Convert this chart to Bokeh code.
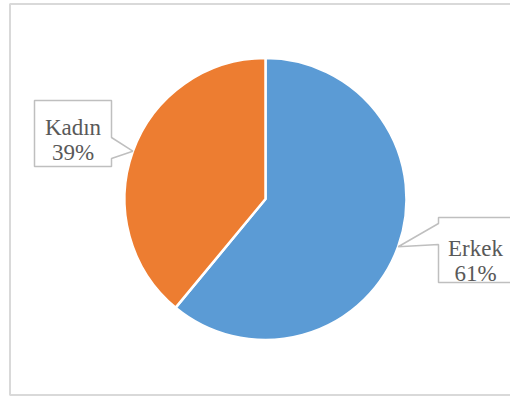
import math
from bokeh.plotting import figure
from bokeh.models import Range1d, ColumnDataSource
from bokeh.core.properties import value
from bokeh.embed import file_html
from bokeh.resources import INLINE

# ---- data ----
labels = ["Erkek", "Kadın"]
values = [61, 39]
colors = ["#5b9bd5", "#ed7d31"]

# ---- layout (screen pixels of the picture) ----
W, H = 510, 397
OX, OY = 0, 0
CX, CY, R = 265, 198.5, 141
FONT = value("Liberation Serif")
FSIZE = "23px"

def dx(sx):
    return sx - OX

def dy(sy):
    return (OY + H) - sy

p = figure(width=W, height=H, x_range=Range1d(0, W), y_range=Range1d(0, H),
           output_backend="svg", toolbar_location=None, min_border=0)
p.axis.visible = False
p.grid.visible = False
p.outline_line_color = None
p.background_fill_color = "white"
p.border_fill_color = "white"

# chart area border
bl, bt, bb, br = 9.5, 3.5, 394.5, 520
p.line([dx(br), dx(bl), dx(bl), dx(br)], [dy(bt), dy(bt), dy(bb), dy(bb)],
       line_color="#d9d9d9", line_width=2)

# wedges: start at 12 o'clock, clockwise
total = sum(values)
starts, ends, mids = [], [], []
cur = 90.0
for v in values:
    sweep = v / total * 360.0
    end = cur
    start = cur - sweep
    starts.append(math.radians(start))
    ends.append(math.radians(end))
    mids.append(math.radians((start + end) / 2))
    cur = start

src = ColumnDataSource(dict(x=[dx(CX)] * len(values), y=[dy(CY)] * len(values),
                            start=starts, end=ends, color=colors))
p.wedge(x="x", y="y", radius=R, start_angle="start", end_angle="end",
        fill_color="color", line_color="white", line_width=2.5, source=src)

# callout boxes (layout)
boxes = {
    "Erkek": dict(l=438, r=516, t=217, b=282, side="left", base=(223, 244), cx=475, y1=248, y2=273),
    "Kadın": dict(l=34, r=111, t=100, b=166, side="right", base=(137, 158), cx=72.5, y1=127, y2=152),
}

for lab, v, m in zip(labels, values, mids):
    bx = boxes[lab]
    tipx = CX + R * math.cos(m)
    tipy = CY - R * math.sin(m)
    l, r, t, b = bx["l"], bx["r"], bx["t"], bx["b"]
    b0, b1 = bx["base"]
    if bx["side"] == "right":
        pts = [(l, t), (r, t), (r, b0), (tipx, tipy), (r, b1), (r, b), (l, b)]
    else:
        pts = [(l, t), (r, t), (r, b), (l, b), (l, b1), (tipx, tipy), (l, b0)]
    p.patch([dx(a) for a, _ in pts], [dy(c) for _, c in pts],
            fill_color="white", line_color="#bfbfbf", line_width=1.5)
    p.text(x=[dx(bx["cx"])], y=[dy(bx["y1"])], text=[lab],
           text_font=FONT, text_font_size=FSIZE,
           text_color="#595959", text_align="center", text_baseline="alphabetic")
    p.text(x=[dx(bx["cx"])], y=[dy(bx["y2"])], text=[f"{v}%"],
           text_font=FONT, text_font_size=FSIZE,
           text_color="#595959", text_align="center", text_baseline="alphabetic")

open("out.html", "w").write(file_html(p, INLINE))
